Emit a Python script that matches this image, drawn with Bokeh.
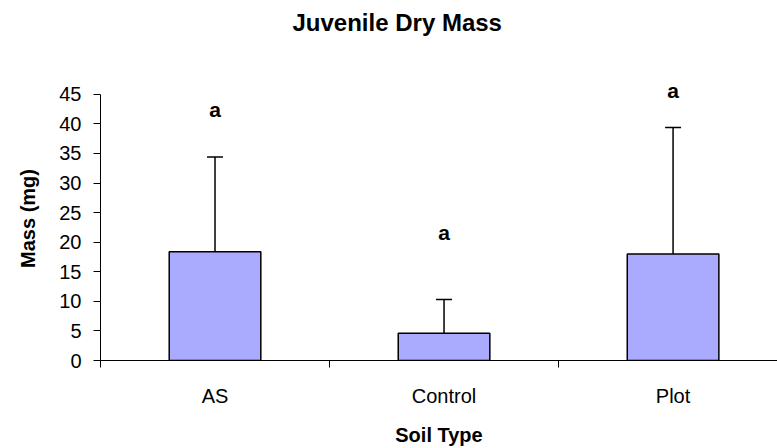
from bokeh.plotting import figure
from bokeh.models import (ColumnDataSource, Range1d, FixedTicker, Whisker, TeeHead,
                          LabelSet, LinearAxis, Title)
from bokeh.core.properties import value
from bokeh.embed import file_html
from bokeh.resources import INLINE

# ---- data ----
categories = ["AS", "Control", "Plot"]
means = [18.4, 4.6, 18.0]
upper_err = [34.4, 10.3, 39.4]          # top of the (upper-only) error bars
letters = ["a", "a", "a"]
letter_y = [42.5, 21.7, 45.6]
y_ticks = [0, 5, 10, 15, 20, 25, 30, 35, 40, 45]
title_text = "Juvenile Dry Mass"

FONT = "Liberation Sans"
BAR_FILL = "#AAAAFF"

xc = [i + 0.5 for i in range(len(categories))]
src = ColumnDataSource(dict(x=xc, cat=categories, mean=means, up=upper_err,
                            letter=letters, ly=letter_y))

p = figure(width=777, height=448,
           x_range=Range1d(0, 2.956), y_range=Range1d(0, 48),
           output_backend="svg", toolbar_location=None,
           min_border_left=100, min_border_top=76, min_border_right=0,
           min_border_bottom=87)

xa = p.below[0]
ya = p.left[0]

p.vbar(x="x", top="mean", width=0.4, source=src,
       fill_color=BAR_FILL, line_color="black", line_width=1.5)

wk = Whisker(source=src, base="x", lower="mean", upper="up",
             line_color="black", line_width=1.5,
             upper_head=TeeHead(size=16, line_color="black", line_width=1.5),
             lower_head=None)
p.add_layout(wk)

lbl = LabelSet(x="x", y="ly", text="letter", source=src,
               text_align="center", text_baseline="middle",
               text_font=value(FONT), text_font_style="bold",
               text_font_size="21px", text_color="black")
p.add_layout(lbl)

# invisible spacer axis in the top panel (white ticks, no labels) so the title sits high
spacer = LinearAxis(ticker=FixedTicker(ticks=xc, minor_ticks=[]),
                    axis_line_color=None, major_tick_line_color="white",
                    minor_tick_line_color=None, major_tick_out=36,
                    major_tick_in=0, minor_tick_out=0, minor_tick_in=0,
                    major_label_standoff=0, major_label_text_font_size="0px",
                    major_label_overrides={x: "" for x in xc})
p.add_layout(spacer, "above")

ttl = Title(text=title_text, text_font=FONT, text_font_style="bold",
            text_font_size="24px", text_color="black",
            align="left", offset=192, standoff=10)
p.add_layout(ttl, "above")

# axes
p.xgrid.visible = False
p.ygrid.visible = False
p.outline_line_color = None
p.background_fill_color = "white"
p.border_fill_color = "white"

xa.ticker = FixedTicker(ticks=xc, minor_ticks=list(range(len(categories) + 1)))
xa.major_label_overrides = {x: c for x, c in zip(xc, categories)}
xa.major_tick_out = 0
xa.major_tick_in = 0
xa.minor_tick_out = 7
xa.minor_tick_in = 0
xa.minor_tick_line_color = "black"
xa.axis_line_color = "black"
xa.major_label_text_font = FONT
xa.major_label_text_font_size = "20px"
xa.major_label_text_color = "black"
xa.major_label_standoff = 17
xa.axis_label = "Soil Type"
xa.axis_label_text_font = FONT
xa.axis_label_text_font_style = "bold"
xa.axis_label_text_font_size = "20px"
xa.axis_label_text_color = "black"
xa.axis_label_standoff = 14

ya.ticker = FixedTicker(ticks=y_ticks, minor_ticks=[])
ya.bounds = (0, 45)
ya.major_tick_out = 7
ya.major_tick_in = 0
ya.major_tick_line_color = "black"
ya.axis_line_color = "black"
ya.major_label_text_font = FONT
ya.major_label_text_font_size = "20px"
ya.major_label_text_color = "black"
ya.major_label_standoff = 12
ya.axis_label = "Mass (mg)"
ya.axis_label_text_font = FONT
ya.axis_label_text_font_style = "bold"
ya.axis_label_text_font_size = "20px"
ya.axis_label_text_color = "black"
ya.axis_label_standoff = 17

open("out.html", "w").write(file_html(p, INLINE))
